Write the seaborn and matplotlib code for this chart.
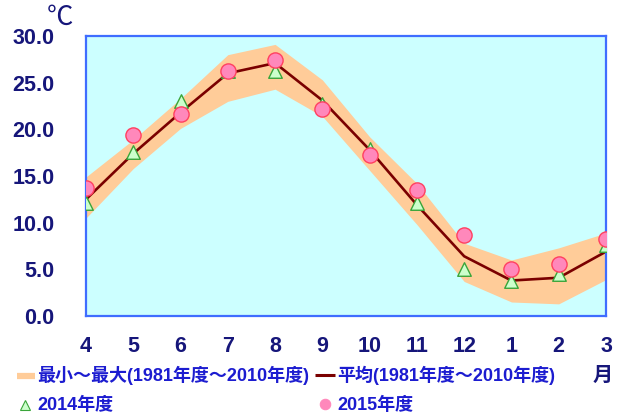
import matplotlib
matplotlib.use("Agg")
import matplotlib.pyplot as plt
from matplotlib.lines import Line2D
import numpy as np
import pandas as pd
import seaborn as sns

# Monthly air temperature, fiscal year order (April -> March)
months = ["4", "5", "6", "7", "8", "9", "10", "11", "12", "1", "2", "3"]
band_min = [10.5, 15.8, 20.1, 23.0, 24.3, 21.4, 15.6, 9.8, 3.7, 1.5, 1.3, 3.9]
band_max = [14.9, 18.9, 23.3, 28.0, 29.1, 25.3, 19.2, 14.2, 7.8, 6.0, 7.3, 8.9]
mean_8110 = [12.5, 17.4, 21.8, 26.0, 27.1, 23.1, 17.8, 11.9, 6.4, 3.8, 4.1, 6.9]
fy2014 = [12.1, 17.6, 23.0, 26.3, 26.3, 22.7, 17.9, 12.1, 5.0, 3.8, 4.5, 7.6]
fy2015 = [13.7, 19.4, 21.6, 26.2, 27.4, 22.2, 17.3, 13.5, 8.7, 5.0, 5.6, 8.3]
y_ticks = [0, 5, 10, 15, 20, 25, 30]

label_band = "最小～最大(1981年度～2010年度)"
label_mean = "平均(1981年度～2010年度)"
label_2014 = "2014年度"
label_2015 = "2015年度"

sns.set_style("white")
plt.rcParams["font.family"] = ["Liberation Sans", "Noto Sans CJK JP", "DejaVu Sans"]

df = pd.DataFrame({
    "pos": np.arange(len(months)),
    "month": months,
    "lo": band_min,
    "hi": band_max,
    "mean": mean_8110,
    "fy2014": fy2014,
    "fy2015": fy2015,
})

W, H = 617, 418
fig = plt.figure(figsize=(W / 100, H / 100), dpi=100)
ax = fig.add_axes([86 / W, 102 / H, 520 / W, 280 / H])

BAND = "#ffcc99"
MEAN = "#7a0000"
TRI_FACE, TRI_EDGE = "#ccffcc", "#3aa53a"
CIR_FACE, CIR_EDGE = "#ff88bb", "#ff4060"
SPINE = "#3f6dff"
NAVY = "#16167a"
LEG_TXT = "#1c1cd0"

ax.set_facecolor("#ccffff")
ax.fill_between(df["pos"], df["lo"], df["hi"], color=BAND, lw=0, zorder=1)
sns.lineplot(data=df, x="pos", y="mean", color=MEAN, lw=1.9, ax=ax, zorder=2,
             legend=False)
sns.scatterplot(data=df, x="pos", y="fy2014", marker="^", s=95, color=TRI_FACE,
                edgecolor=TRI_EDGE, linewidth=1.0, ax=ax, zorder=3, legend=False)
sns.scatterplot(data=df, x="pos", y="fy2015", marker="o", s=120, color=CIR_FACE,
                edgecolor=CIR_EDGE, linewidth=1.0, ax=ax, zorder=4, legend=False)

ax.set_xlim(0, len(months) - 1)
ax.set_ylim(0, 30)
ax.set_xticks(df["pos"])
ax.set_xticklabels(months)
ax.set_yticks(y_ticks)
ax.set_yticklabels([f"{v:.1f}" for v in y_ticks])
ax.set_xlabel("")
ax.set_ylabel("")

for sp in ax.spines.values():
    sp.set_visible(True)
    sp.set_color(SPINE)
    sp.set_linewidth(1.6)

ax.tick_params(axis="x", direction="in", length=5, width=1.5, color=SPINE,
               pad=14.5, labelsize=15.5, labelcolor=NAVY)
ax.tick_params(axis="y", direction="out", length=5.8, width=1.5, color=SPINE,
               pad=17, labelsize=15.5, labelcolor=NAVY)
for lab in ax.get_xticklabels() + ax.get_yticklabels():
    lab.set_fontweight("bold")

# unit and axis captions
fig.text(60 / W, 1 - 17 / H, "℃", ha="center", va="center", fontsize=19,
         color=NAVY, family=["Noto Sans CJK JP", "DejaVu Sans"])
fig.text(603 / W, 1 - 374 / H, "月", ha="center", va="center", fontsize=14.5,
         fontweight="bold", color=NAVY, family=["Noto Sans CJK JP"])

# legend drawn below the plot area
def fx(px):
    return px / W


def fy(py):
    return 1 - py / H


leg_font = dict(fontsize=13, fontweight="bold", color=LEG_TXT, va="center",
                ha="left", family=["Liberation Sans", "Noto Sans CJK JP"])

fig.add_artist(Line2D([fx(17), fx(35)], [fy(375.5), fy(375.5)], color=BAND,
                      lw=4.5, solid_capstyle="butt", transform=fig.transFigure))
fig.text(fx(37), fy(375), label_band, **leg_font)

fig.add_artist(Line2D([fx(315), fx(335)], [fy(375), fy(375)], color=MEAN,
                      lw=2.2, solid_capstyle="butt", transform=fig.transFigure))
fig.text(fx(337), fy(375), label_mean, **leg_font)

fig.add_artist(Line2D([fx(25)], [fy(405)], marker="^", markersize=7.5,
                      markerfacecolor=TRI_FACE, markeredgecolor=TRI_EDGE,
                      markeredgewidth=0.8, lw=0, transform=fig.transFigure))
fig.text(fx(37), fy(405), label_2014, **leg_font)

fig.add_artist(Line2D([fx(325)], [fy(404)], marker="o", markersize=7.5,
                      markerfacecolor=CIR_FACE, markeredgecolor=CIR_FACE,
                      markeredgewidth=0.8, lw=0, transform=fig.transFigure))
fig.text(fx(337), fy(405), label_2015, **leg_font)

fig.savefig("out.png", dpi=100)
